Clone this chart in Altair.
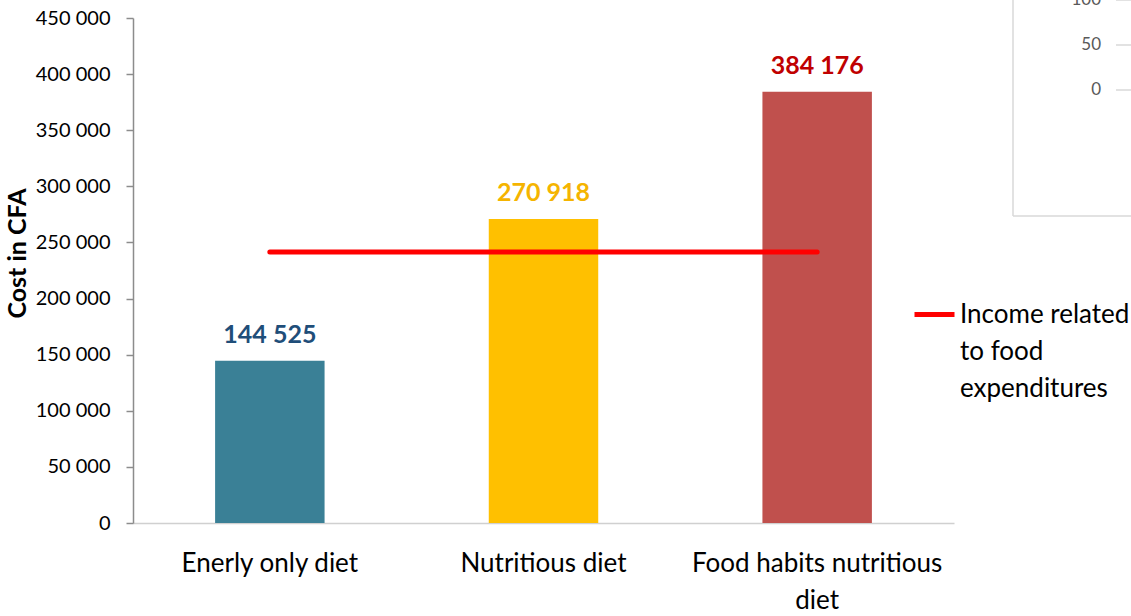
import altair as alt
import pandas as pd

# ---- data ----
categories = ["Enerly only diet", "Nutritious diet", "Food habits nutritious diet"]
costs = [144525, 270918, 384176]
income_label = "Income related to food expenditures"
income_values = [241500, 241500, 241500]
y_ticks = [0, 50000, 100000, 150000, 200000, 250000, 300000, 350000, 400000, 450000]
inset_ticks = [0, 50, 100]  # fragment of a neighbouring chart, top right

# ---- styles ----
bar_colors = ["#3A8096", "#FFC000", "#C0504D"]
label_colors = ["#1F4E79", "#F5B400", "#C00000"]
FONT = "Lato"

bars_df = pd.DataFrame({"diet": categories, "value": costs})
line_df = pd.DataFrame({"diet": categories, "value": income_values,
                        "series": [income_label] * len(categories)})
inset_df = pd.DataFrame({"v": inset_ticks})
one_df = pd.DataFrame({"a": [0]})

space_fmt = "replace(format(datum.value, ','), regexp(',', 'g'), ' ')"

x_enc = alt.X(
    "diet:N", sort=categories,
    scale=alt.Scale(paddingInner=0.6, paddingOuter=0.3),
    axis=alt.Axis(
        title=None, labelAngle=0, ticks=False,
        labelExpr="datum.label == 'Food habits nutritious diet' ? ['Food habits nutritious', 'diet'] : datum.label",
        labelFont=FONT, labelFontSize=26, labelColor="#000000",
        labelPadding=27, labelLineHeight=37, labelBaseline="top", labelLimit=400,
        domainColor="#D0D0D0", domainWidth=1.5,
    ),
)

y_enc = alt.Y(
    "value:Q",
    scale=alt.Scale(domain=[0, 450000], nice=False),
    axis=alt.Axis(
        values=y_ticks, labelExpr=space_fmt, grid=False,
        labelFont=FONT, labelFontSize=20, labelColor="#000000", labelPadding=16,
        tickSize=7, tickColor="#8C8C8C", tickWidth=1.5,
        domainColor="#8C8C8C", domainWidth=1.5,
        title="Cost in CFA", titleFont=FONT, titleFontSize=25, titleFontWeight="bold",
        titleColor="#000000", titleAngle=270, titleBaseline="middle", titleAlign="center",
        titleX=-116, titleY=235,
    ),
)

bars = alt.Chart(bars_df).mark_bar().encode(
    x=x_enc, y=y_enc,
    fill=alt.Fill("diet:N", scale=alt.Scale(domain=categories, range=bar_colors), legend=None),
)

labels = alt.Chart(bars_df).transform_calculate(
    label=space_fmt
).mark_text(dy=-18, baseline="alphabetic", font=FONT, fontSize=25, fontWeight="bold").encode(
    x=x_enc, y=y_enc, text="label:N",
    color=alt.Color("diet:N", scale=alt.Scale(domain=categories, range=label_colors), legend=None),
)

line = alt.Chart(line_df).mark_line(strokeWidth=5, strokeCap="round").encode(
    x=x_enc, y=y_enc,
    stroke=alt.Stroke(
        "series:N", scale=alt.Scale(domain=[income_label], range=["#FF0000"]),
        legend=alt.Legend(
            title=None, orient="none", legendX=779, legendY=274, padding=0,
            symbolType="stroke", symbolSize=1600, symbolStrokeWidth=5,
            labelExpr="['Income related', 'to food', 'expenditures']",
            labelFont=FONT, labelFontSize=26, labelColor="#000000",
            labelOffset=3, labelLimit=400, labelBaseline="middle",
        ),
    ),
)

main = alt.layer(bars, labels, line)

# fragment of another chart visible in the top-right corner of the reference
inset_y = alt.Y("v:Q", scale=alt.Scale(domain=[-481.1, 80], nice=False, zero=False), axis=None)
inset_text = alt.Chart(inset_df).mark_text(
    align="right", baseline="middle", font=FONT, fontSize=17, color="#595959"
).encode(y=inset_y, x=alt.value(968), text="v:Q")
inset_tick = alt.Chart(inset_df).mark_rule(color="#D9D9D9", strokeWidth=1.5).encode(
    y=inset_y, x=alt.value(983), x2=alt.value(998)
)
box_left = alt.Chart(one_df).mark_rule(color="#D9D9D9", strokeWidth=1.5).encode(
    x=alt.value(880), y=alt.value(-18), y2=alt.value(198)
)
box_bottom = alt.Chart(one_df).mark_rule(color="#D9D9D9", strokeWidth=1.5).encode(
    x=alt.value(880), x2=alt.value(998), y=alt.value(198)
)
inset = alt.layer(inset_text, inset_tick, box_left, box_bottom)

chart = alt.layer(main, inset).resolve_scale(y="independent").properties(
    width=821, height=505,
    autosize=alt.AutoSizeParams(type="none"),
    padding={"left": 133, "top": 18, "right": 177, "bottom": 93},
).configure(
    background="#FFFFFF",
    view=alt.ViewConfig(stroke="transparent"),
    style={"guide-label": {"lineHeight": 37}},
)

chart.save("out.html", embed_options={"renderer": "svg", "actions": False})
